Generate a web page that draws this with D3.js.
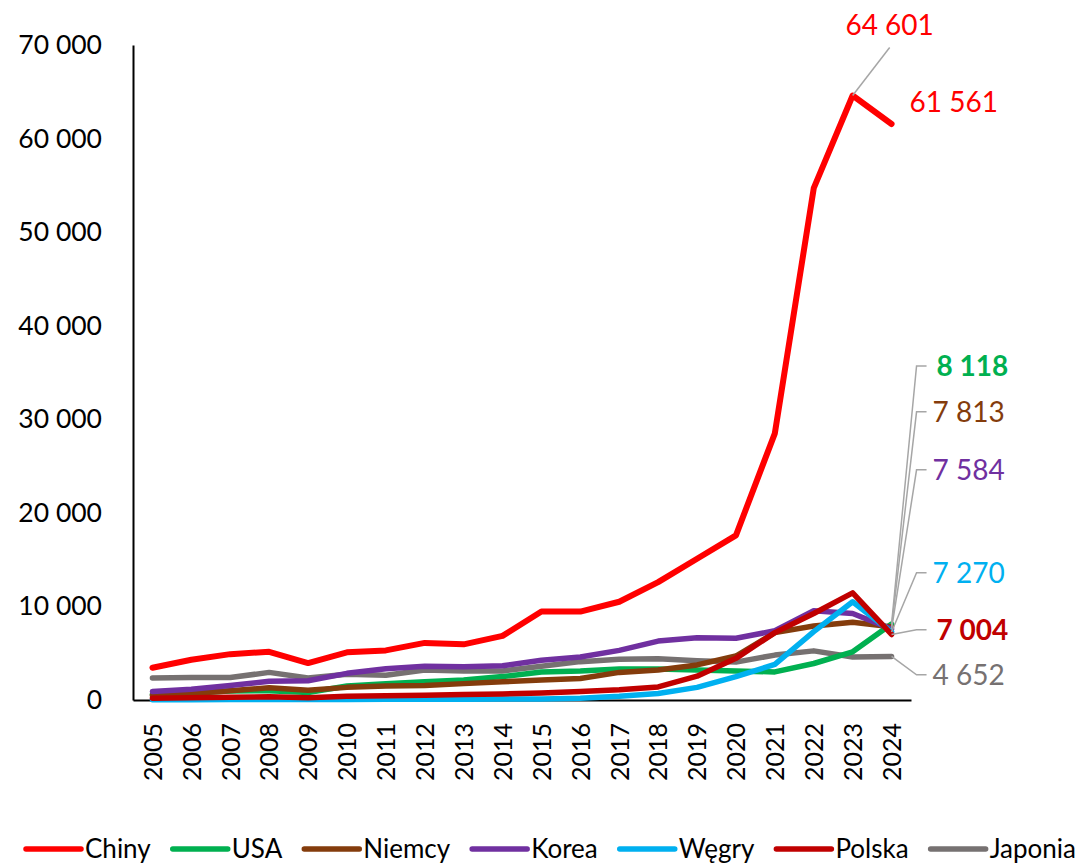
<!DOCTYPE html>
<html>
<head>
<meta charset="utf-8">
<script src="https://cdn.jsdelivr.net/npm/d3@7"></script>
<style>
  body { margin: 0; background: #fff; }
  svg { display: block; font-family: Lato, "Open Sans", sans-serif; }
</style>
</head>
<body>
<svg id="chart" width="1081" height="866"></svg>
<script>
// dane
const years = ["2005", "2006", "2007", "2008", "2009", "2010", "2011", "2012", "2013", "2014",
  "2015", "2016", "2017", "2018", "2019", "2020", "2021", "2022", "2023", "2024"];

const chiny = [3450, 4300, 4900, 5150, 3950, 5100, 5300, 6100, 5950, 6850, 9450, 9450, 10500, 12600, 15100, 17600, 28500, 54700, 64601, 61561];
const usa = [600, 750, 950, 1000, 800, 1500, 1750, 1950, 2150, 2500, 3000, 3100, 3300, 3300, 3200, 3100, 3000, 3900, 5150, 8118];
const niemcy = [500, 700, 1000, 1300, 1050, 1350, 1500, 1550, 1750, 1950, 2150, 2300, 2950, 3200, 3750, 4700, 7200, 7900, 8300, 7813];
const korea = [900, 1150, 1550, 2000, 2050, 2850, 3350, 3600, 3550, 3650, 4250, 4600, 5300, 6300, 6650, 6600, 7400, 9550, 9250, 7584];
const wegry = [30, 40, 50, 60, 50, 60, 70, 80, 90, 100, 120, 200, 400, 700, 1350, 2500, 3800, 7300, 10500, 7270];
const polska = [200, 250, 300, 350, 250, 400, 450, 500, 600, 650, 750, 900, 1100, 1400, 2550, 4450, 7200, 9250, 11450, 7004];
const japonia = [2350, 2400, 2400, 2950, 2350, 2750, 2650, 3200, 3100, 3100, 3600, 4100, 4350, 4400, 4200, 4050, 4800, 5250, 4600, 4652];

const yTicks = [0, 10000, 20000, 30000, 40000, 50000, 60000, 70000];

const series = [
  { name: "Chiny", values: chiny, color: "#ff0000" },
  { name: "USA", values: usa, color: "#00b050" },
  { name: "Niemcy", values: niemcy, color: "#843c0c" },
  { name: "Korea", values: korea, color: "#7030a0" },
  { name: "Węgry", values: wegry, color: "#00b0f0" },
  { name: "Polska", values: polska, color: "#c00000" },
  { name: "Japonia", values: japonia, color: "#767171" },
];
// kolejność rysowania (ostatnia na wierzchu)
const drawOrder = ["Japonia", "Chiny", "USA", "Niemcy", "Korea", "Węgry", "Polska"];

// etykiety końcowe: pozycja etykiety w jednostkach osi Y, pogrubienie
const endLabels = [
  { name: "USA", labelAt: 35700, bold: true },
  { name: "Niemcy", labelAt: 30800, bold: false },
  { name: "Korea", labelAt: 24600, bold: false },
  { name: "Węgry", labelAt: 13600, bold: false },
  { name: "Polska", labelAt: 7500, bold: true },
  { name: "Japonia", labelAt: 2700, bold: false },
];

const fmt = d3.formatLocale({ decimal: ",", thousands: " ", grouping: [3], currency: ["", ""] }).format(",");

const svg = d3.select("#chart");
svg.append("rect").attr("width", 1081).attr("height", 866).attr("fill", "#fff");

const mLeft = 133, mRight = 911, mTop = 45, mBottom = 700;

const x = d3.scalePoint().domain(years).range([mLeft, mRight]).padding(0.5);
const y = d3.scaleLinear().domain([0, 70000]).range([mBottom, mTop]);

// oś Y
const yAxis = svg.append("g")
  .attr("transform", `translate(${mLeft},0)`)
  .call(d3.axisLeft(y).tickValues(yTicks).tickFormat(fmt).tickSize(0).tickPadding(31));
yAxis.select(".domain").attr("stroke", "#000").attr("stroke-width", 2);
yAxis.selectAll("text").attr("font-size", 26.5).attr("fill", "#000").attr("font-family", "Lato");

// oś X
const xAxis = svg.append("g")
  .attr("transform", `translate(0,${mBottom})`)
  .call(d3.axisBottom(x).tickSize(0));
xAxis.select(".domain").attr("stroke", "#000").attr("stroke-width", 2);
xAxis.selectAll("text")
  .attr("font-size", 25)
  .attr("fill", "#000")
  .attr("font-family", "Lato")
  .attr("text-anchor", "end")
  .attr("dy", "0.35em")
  .attr("transform", "translate(0,23) rotate(-90)")
  .attr("x", 0)
  .attr("y", 0);

// linie
const line = d3.line().x((d, i) => x(years[i])).y((d) => y(d));
const byName = {};
series.forEach((s) => (byName[s.name] = s));

svg.append("g").selectAll("path")
  .data(drawOrder.map((n) => byName[n]))
  .join("path")
  .attr("d", (d) => line(d.values))
  .attr("fill", "none")
  .attr("stroke", (d) => d.color)
  .attr("stroke-width", (d) => (d.name === "Chiny" ? 6 : 5.5))
  .attr("stroke-linejoin", "round")
  .attr("stroke-linecap", "round");

// etykiety Chiny
const last = years.length - 1;
const peakX = x(years[last - 1]), peakY = y(chiny[last - 1]);
const lab = svg.append("g").attr("font-family", "Lato").attr("font-size", 28);
lab.append("line")
  .attr("x1", peakX).attr("y1", peakY)
  .attr("x2", peakX + 37).attr("y2", peakY - 48)
  .attr("stroke", "#a6a6a6").attr("stroke-width", 1.5);
lab.append("text")
  .attr("x", peakX + 37).attr("y", peakY - 70)
  .attr("text-anchor", "middle").attr("dy", "0.35em")
  .attr("fill", "#ff0000")
  .text(fmt(chiny[last - 1]));
lab.append("text")
  .attr("x", x(years[last]) + 18).attr("y", y(chiny[last]) - 22)
  .attr("dy", "0.35em")
  .attr("fill", "#ff0000")
  .text(fmt(chiny[last]));

// etykiety końcowe z odnośnikami
const endX = x(years[last]);
endLabels.forEach((l) => {
  const s = byName[l.name];
  const v = s.values[last];
  const ly = y(l.labelAt);
  lab.append("polyline")
    .attr("points", `${endX},${y(v)} ${endX + 25},${ly} ${endX + 35},${ly}`)
    .attr("fill", "none")
    .attr("stroke", "#a6a6a6").attr("stroke-width", 1.5);
  lab.append("text")
    .attr("x", endX + (l.bold ? 45 : 41)).attr("y", ly)
    .attr("dy", "0.35em")
    .attr("fill", s.color)
    .attr("font-weight", l.bold ? "bold" : "normal")
    .text(fmt(v));
});

// legenda
const legend = svg.append("g").attr("font-family", "Lato").attr("font-size", 26);
const items = [];
let used = 0;
series.forEach((s) => {
  const g = legend.append("g");
  g.append("line")
    .attr("x1", 0).attr("x2", 55).attr("y1", 0).attr("y2", 0)
    .attr("stroke", s.color).attr("stroke-width", 5.5).attr("stroke-linecap", "round");
  const t = g.append("text").attr("x", 59).attr("dy", "0.35em").attr("fill", "#000").text(s.name);
  const w = 59 + t.node().getComputedTextLength();
  items.push({ g, w });
  used += w;
});
const legStart = 26, legEnd = 1076;
const gap = (legEnd - legStart - used) / (items.length - 1);
let lx = legStart;
items.forEach((it) => {
  it.g.attr("transform", `translate(${lx},849)`);
  lx += it.w + gap;
});
</script>
</body>
</html>
